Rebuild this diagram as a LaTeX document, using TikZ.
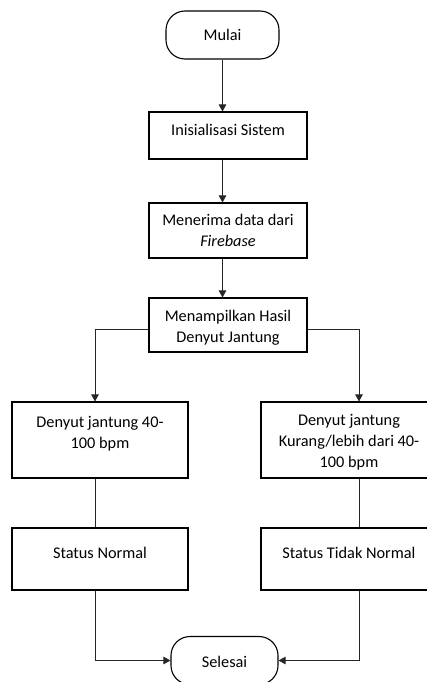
\documentclass[tikz,border=0pt]{standalone}
\usepackage{fontspec}
\setmainfont{Carlito}
\usetikzlibrary{arrows.meta,calc}

\tikzset{
  box/.style={draw=black, line width=1.1pt, rectangle, inner sep=0pt},
  term/.style={draw=black, line width=1.1pt, rectangle, rounded corners=19pt, inner sep=0pt},
  txt/.style={align=center, inner sep=0pt, font=\fontsize{16.3}{21}\selectfont},
  link/.style={draw=black!85, line width=0.9pt},
  arr/.style={link, -{Triangle[width=7.5pt,length=7pt]}},
}

\begin{document}
\begin{tikzpicture}[x=1pt,y=-1pt]
  \useasboundingbox (0,0) rectangle (427,682);
  \clip (0,0) rectangle (427,682);

  % terminals
  \node[term, minimum width=113pt, minimum height=48pt,
        label={[txt]center:Mulai}] (mulai) at (222.5,35) {};
  \node[term, minimum width=107pt, minimum height=48pt,
        label={[txt,yshift=-1.5pt]center:Selesai}] (selesai) at (224.5,660.5) {};

  % main process column
  \node[box, minimum width=158pt, minimum height=47pt,
        label={[txt,yshift=5.5pt]center:Inisialisasi Sistem}] (init) at (228,135.5) {};
  \node[box, minimum width=158pt, minimum height=55pt,
        label={[txt]center:Menerima data dari\\\textit{Firebase}}] (terima) at (228,230.5) {};
  \node[box, minimum width=158pt, minimum height=54pt,
        label={[txt,yshift=-3pt]center:Menampilkan Hasil\\Denyut Jantung}] (tampil) at (228,325) {};

  % branches
  \node[box, minimum width=176pt, minimum height=76pt,
        label={[txt,yshift=6.5pt]center:Denyut jantung 40-\\100 bpm}] (ln) at (100,440) {};
  \node[box, minimum width=176pt, minimum height=76pt,
        label={[txt,yshift=-2pt]center:Denyut jantung\\Kurang/lebih dari 40-\\100 bpm}] (rn) at (349,440) {};
  \node[box, minimum width=176pt, minimum height=62pt,
        label={[txt,yshift=6pt]center:Status Normal}] (lst) at (100,559) {};
  \node[box, minimum width=176pt, minimum height=62pt,
        label={[txt,yshift=6pt]center:Status Tidak Normal}] (rst) at (349,559) {};

  % turning points of the branch lines
  \coordinate (lturn) at (95,329);
  \coordinate (rturn) at (359,329);

  % connectors
  \draw[arr] (mulai.south) -- (init.north -| mulai.south);
  \draw[arr] (init.south -| mulai.south) -- (terima.north -| mulai.south);
  \draw[arr] (terima.south -| mulai.south) -- (tampil.north -| mulai.south);

  \draw[arr] ($(tampil.west)+(0,4)$) -- (lturn) -- (lturn |- ln.north);
  \draw[arr] ($(tampil.east)+(0,4)$) -- (rturn) -- (rturn |- rn.north);

  \draw[link] (lturn |- ln.south) -- (lturn |- lst.north);
  \draw[link] (rturn |- rn.south) -- (rturn |- rst.north);

  \draw[arr] (lturn |- lst.south) -- (lturn |- selesai.west) -- (selesai.west);
  \draw[arr] (rturn |- rst.south) -- (rturn |- selesai.east) -- (selesai.east);
\end{tikzpicture}
\end{document}
